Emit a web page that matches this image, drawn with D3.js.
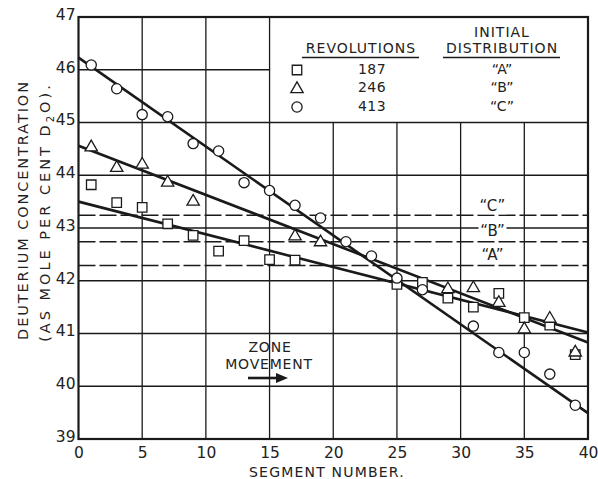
<!DOCTYPE html>
<html>
<head>
<meta charset="utf-8">
<script src="https://cdn.jsdelivr.net/npm/d3@7/dist/d3.min.js"></script>
<style>
  html, body { margin: 0; padding: 0; background: #fff; }
  svg text { font-family: "DejaVu Sans", sans-serif; fill: #222; }
</style>
</head>
<body>
<svg id="chart" width="598" height="479"></svg>
<script>
// Segment positions along the column (odd segments sampled)
const segments = [1,3,5,7,9,11,13,15,17,19,21,23,25,27,29,31,33,35,37,39];

// Deuterium concentration (mole % D2O) per segment; null = not plotted
const rev187 = [43.82,43.48,43.39,43.08,42.86,42.56,42.76,42.40,42.39,null,null,null,41.93,41.97,41.67,41.50,41.76,41.30,41.16,40.60];
const rev246 = [44.55,44.16,44.22,43.88,43.52,null,null,null,42.86,42.75,null,null,null,null,41.86,41.88,41.60,41.10,41.30,40.66];
const rev413 = [46.09,45.64,45.15,45.11,44.60,44.46,43.86,43.71,43.43,43.19,42.74,42.47,42.05,41.83,null,41.14,40.64,40.64,40.23,39.64];

// Fitted straight lines: value at segment 0 and at segment 40
const fitEnds = [0, 40];
const fit187 = [43.50, 41.02];
const fit246 = [44.56, 40.83];
const fit413 = [46.23, 39.49];

// Initial distribution levels
const initLabels = ["A", "B", "C"];
const initLevels = [42.29, 42.74, 43.24];

// Legend rows
const revolutions = ["187", "246", "413"];
const distributions = ["A", "B", "C"];

const xTicks = [0,5,10,15,20,25,30,35,40];
const yTicks = [39,40,41,42,43,44,45,46,47];

const svg = d3.select("#chart");
const x = d3.scaleLinear().domain([0, 40]).range([78.5, 588]);
const y = d3.scaleLinear().domain([39, 47]).range([439, 17]);

const ink = "#1a1a1a";

// ---- grid (legend block in the upper right is kept clear) ----
const grid = svg.append("g").attr("stroke", ink).attr("stroke-width", 1.3);
xTicks.slice(1, -1).forEach(t => {
  const top = t > 15 ? y(45) : y(47);
  grid.append("line").attr("x1", x(t)).attr("x2", x(t)).attr("y1", y(39)).attr("y2", top);
});
yTicks.slice(1, -1).forEach(t => {
  const right = t === 46 ? x(15) : x(40);
  grid.append("line").attr("x1", x(0)).attr("x2", right).attr("y1", y(t)).attr("y2", y(t));
});

// ---- initial distribution dashed levels ----
const dashG = svg.append("g");
initLevels.forEach(v => {
  dashG.append("line")
    .attr("x1", x(0)).attr("x2", x(40)).attr("y1", y(v)).attr("y2", y(v))
    .attr("stroke", ink).attr("stroke-width", 1.5).attr("stroke-dasharray", "17,4");
});
// level labels, sitting just above each dashed line
const labelLift = [10, 10, 9];
initLabels.forEach((lab, i) => {
  const ty = y(initLevels[i]) - labelLift[i];
  dashG.append("rect")
    .attr("x", x(32.5) - 14).attr("y", ty - 9).attr("width", 28).attr("height", 17)
    .attr("fill", "#fff");
  dashG.append("text")
    .attr("x", x(32.5)).attr("y", ty).attr("text-anchor", "middle")
    .attr("dominant-baseline", "middle").attr("font-size", 15)
    .text("\u201C" + lab + "\u201D");
});

// ---- axes frame ----
svg.append("rect")
  .attr("x", x(0)).attr("y", y(47))
  .attr("width", x(40) - x(0)).attr("height", y(39) - y(47))
  .attr("fill", "none").attr("stroke", ink).attr("stroke-width", 2.2);

// ---- tick labels via d3 axes ----
const xAxis = svg.append("g").attr("transform", `translate(0,${y(39)})`)
  .call(d3.axisBottom(x).tickValues(xTicks).tickSize(0).tickPadding(8).tickFormat(d3.format("d")));
const yAxis = svg.append("g").attr("transform", `translate(${x(0)},0)`)
  .call(d3.axisLeft(y).tickValues(yTicks).tickSize(0).tickPadding(3).tickFormat(d3.format("d")));
[xAxis, yAxis].forEach(a => {
  a.select(".domain").remove();
  a.selectAll("text").attr("font-size", 15.5).attr("font-family", "DejaVu Sans").attr("fill", "#222");
});
yAxis.selectAll("text").attr("dy", "0.15em");

// ---- axis titles ----
svg.append("text")
  .attr("x", 327).attr("y", 477).attr("text-anchor", "middle")
  .attr("font-size", 14).attr("letter-spacing", 1.2)
  .text("SEGMENT NUMBER.");

const yt = svg.append("g").attr("transform", "translate(28,0) rotate(-90)");
yt.append("text").attr("x", -210).attr("y", 0).attr("text-anchor", "middle")
  .attr("font-size", 14.5).attr("letter-spacing", 1.9)
  .text("DEUTERIUM CONCENTRATION");
const t2 = yt.append("text").attr("x", -212).attr("y", 22).attr("text-anchor", "middle")
  .attr("font-size", 14.5).attr("letter-spacing", 3);
t2.append("tspan").text("(AS MOLE PER CENT D");
t2.append("tspan").attr("font-size", 10).attr("dy", 4).text("2");
t2.append("tspan").attr("dy", -4).text("O).");

// ---- fitted lines ----
const line = d3.line().x((d, i) => x(fitEnds[i])).y(d => y(d));
[fit187, fit246, fit413].forEach(f => {
  svg.append("path").datum(f).attr("d", line)
    .attr("fill", "none").attr("stroke", ink).attr("stroke-width", 2.6);
});

// ---- markers ----
const symSquare = d3.symbol().type(d3.symbolSquare).size(90);
const symTri = d3.symbol().type(d3.symbolTriangle).size(66);
const symCircle = d3.symbol().type(d3.symbolCircle).size(82);
const series = [
  { vals: rev187, sym: symSquare, dy: 0 },
  { vals: rev246, sym: symTri, dy: 1 },
  { vals: rev413, sym: symCircle, dy: 0 }
];
series.forEach(s => {
  svg.append("g").selectAll("path")
    .data(segments.map((seg, i) => [seg, s.vals[i]]).filter(d => d[1] != null))
    .join("path")
    .attr("d", s.sym())
    .attr("transform", d => `translate(${x(d[0])},${y(d[1]) + s.dy})`)
    .attr("fill", "#fff").attr("stroke", ink).attr("stroke-width", 1.3);
});

// ---- legend ----
const lg = svg.append("g");
lg.append("text").attr("x", 361).attr("y", 53).attr("text-anchor", "middle")
  .attr("font-size", 14).attr("letter-spacing", 1).text("REVOLUTIONS");
lg.append("line").attr("x1", 302).attr("x2", 419).attr("y1", 57.5).attr("y2", 57.5)
  .attr("stroke", ink).attr("stroke-width", 1.4);
lg.append("text").attr("x", 502).attr("y", 37).attr("text-anchor", "middle")
  .attr("font-size", 14).attr("letter-spacing", 1).text("INITIAL");
lg.append("text").attr("x", 502).attr("y", 53).attr("text-anchor", "middle")
  .attr("font-size", 14).attr("letter-spacing", 1).text("DISTRIBUTION");
lg.append("line").attr("x1", 443).attr("x2", 560).attr("y1", 57.5).attr("y2", 57.5)
  .attr("stroke", ink).attr("stroke-width", 1.4);
const rowY = [70, 88, 107];
const legSyms = [symSquare, symTri, symCircle];
revolutions.forEach((r, i) => {
  lg.append("path").attr("d", legSyms[i]())
    .attr("transform", `translate(297,${rowY[i] + (i === 1 ? 1 : 0)})`)
    .attr("fill", "#fff").attr("stroke", ink).attr("stroke-width", 1.3);
  lg.append("text").attr("x", 372).attr("y", rowY[i]).attr("text-anchor", "middle")
    .attr("dominant-baseline", "middle").attr("font-size", 14).attr("letter-spacing", 0.5).text(r);
  lg.append("text").attr("x", 502).attr("y", rowY[i]).attr("text-anchor", "middle")
    .attr("dominant-baseline", "middle").attr("font-size", 14)
    .text("\u201C" + distributions[i] + "\u201D");
});

// ---- zone movement note ----
const zn = svg.append("g");
zn.append("text").attr("x", 270).attr("y", 352).attr("text-anchor", "middle")
  .attr("font-size", 14).attr("letter-spacing", 0.8).text("ZONE");
zn.append("text").attr("x", 269).attr("y", 369).attr("text-anchor", "middle")
  .attr("font-size", 14).attr("letter-spacing", 0.8).text("MOVEMENT");
zn.append("line").attr("x1", 248).attr("x2", 278).attr("y1", 378).attr("y2", 378)
  .attr("stroke", ink).attr("stroke-width", 2.6);
zn.append("path").attr("d", "M276,373 L288,378 L276,383 Z").attr("fill", ink);
</script>
</body>
</html>
